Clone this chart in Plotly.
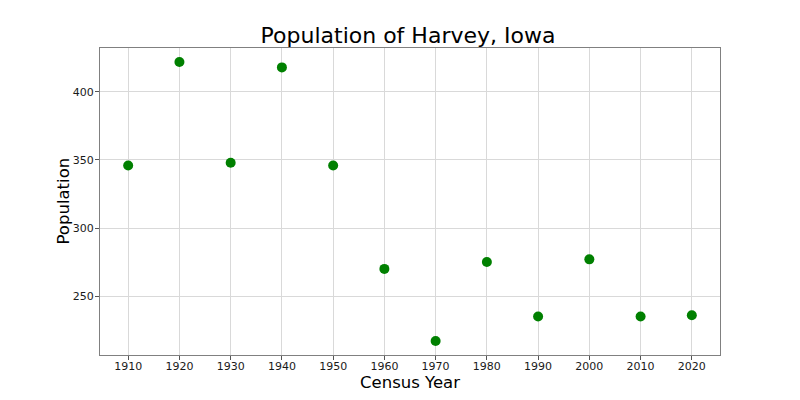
import plotly.graph_objects as go

years = [1910, 1920, 1930, 1940, 1950, 1960, 1970, 1980, 1990, 2000, 2010, 2020]
population = [346, 422, 348, 418, 346, 270, 217, 275, 235, 277, 235, 236]
x_ticks = [1910, 1920, 1930, 1940, 1950, 1960, 1970, 1980, 1990, 2000, 2010, 2020]
y_ticks = [250, 300, 350, 400]

fig = go.Figure(go.Scatter(
    x=years, y=population, mode="markers",
    marker=dict(color="green", size=10, line=dict(width=0)),
))

axis_common = dict(
    showgrid=True, gridcolor="#d9d9d9", gridwidth=1,
    showline=True, linecolor="#808080", linewidth=1, mirror=True,
    ticks="outside", ticklen=4, tickcolor="#555555",
    tickfont=dict(size=11, color="#1a1a1a"),
    zeroline=False, automargin=False,
)

# page body has an 8px offset; margins compensate so the plot lands where the reference has it
fig.update_layout(
    width=800, height=400,
    font=dict(family="DejaVu Sans", color="black"),
    paper_bgcolor="white", plot_bgcolor="white",
    margin=dict(l=92, r=88, t=40, b=53, autoexpand=False),
    title=dict(text="Population of Harvey, Iowa", x=0.5, xanchor="center",
               y=1 - 27 / 400, yanchor="middle", font=dict(size=22)),
    showlegend=False,
    annotations=[
        dict(text="Census Year", xref="paper", yref="paper", x=0.5, y=0,
             xanchor="center", yanchor="middle", yshift=-27, showarrow=False,
             font=dict(size=16.5)),
        dict(text="Population", xref="paper", yref="paper", x=0, y=0.5,
             xanchor="center", yanchor="middle", xshift=-37, textangle=-90,
             showarrow=False, font=dict(size=16.5)),
    ],
)
fig.update_xaxes(range=[1904.5, 2025.5], tickvals=x_ticks, ticklabelstandoff=-3,
                 **axis_common)
fig.update_yaxes(range=[206.75, 432.25], tickvals=y_ticks, ticklabelstandoff=-1,
                 **axis_common)

fig.write_html("out.html")
